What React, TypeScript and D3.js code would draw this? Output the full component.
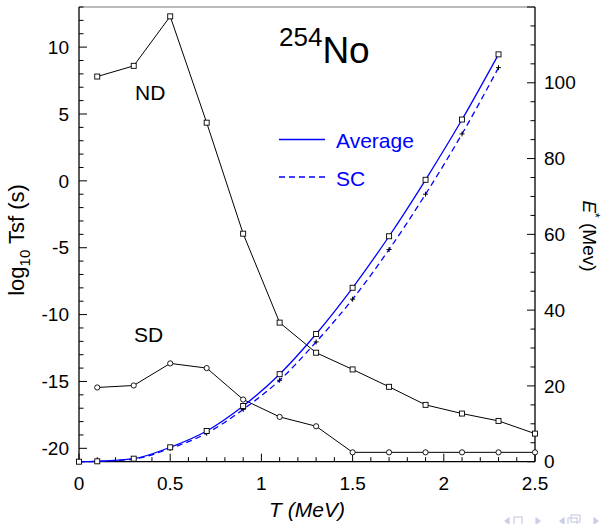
import React from "react";
import * as d3 from "d3";

// temperature grid (MeV)
const tND = [0.1, 0.3, 0.5, 0.7, 0.9, 1.1, 1.3, 1.5, 1.7, 1.9, 2.1, 2.3, 2.5];
const logTsfND = [7.8, 8.6, 12.3, 4.35, -3.95, -10.6, -12.85, -14.1, -15.4, -16.75, -17.4, -17.95, -18.9];
const logTsfSD = [-15.45, -15.3, -13.65, -14.0, -16.35, -17.65, -18.35, -20.3, -20.3, -20.3, -20.3, -20.3, -20.3];

const tE = [0, 0.1, 0.3, 0.5, 0.7, 0.9, 1.1, 1.3, 1.5, 1.7, 1.9, 2.1, 2.3];
const eAverage = [0, 0.1, 0.8, 3.8, 8.1, 14.7, 23.1, 33.7, 45.9, 59.5, 74.4, 90.3, 107.5];
const eSC = [0, 0.1, 0.7, 3.5, 7.5, 13.8, 21.5, 31.6, 42.9, 56.0, 70.6, 86.5, 104.0];

const xTicks = [0, 0.5, 1, 1.5, 2, 2.5];
const yLeftTicks = [-20, -15, -10, -5, 0, 5, 10];
const yRightTicks = [0, 20, 40, 60, 80, 100];

const W = 605;
const H = 524;
const left = 79;
const right = 535;
const top = 7;
const bottom = 461.7;
const font = "'Liberation Sans', Arial, Helvetica, sans-serif";
const blue = "#0000ff";

export default function App() {
  const x = d3.scaleLinear().domain([0, 2.5]).range([left, right]);
  const yL = d3.scaleLinear().domain([-21, 13]).range([bottom, top]);
  const yR = d3.scaleLinear().domain([0, 120]).range([bottom, top]);

  const lineL = d3
    .line<[number, number]>()
    .x((d) => x(d[0]))
    .y((d) => yL(d[1]));
  const curveR = d3
    .line<[number, number]>()
    .x((d) => x(d[0]))
    .y((d) => yR(d[1]))
    .curve(d3.curveMonotoneX);

  const nd = tND.map((t, i) => [t, logTsfND[i]] as [number, number]);
  const sd = tND.map((t, i) => [t, logTsfSD[i]] as [number, number]);
  const avg = tE.map((t, i) => [t, eAverage[i]] as [number, number]);
  const sc = tE.map((t, i) => [t, eSC[i]] as [number, number]);

  const xMinor = d3.range(0, 2.5001, 0.1);
  const yLMinor = d3.range(-21, 13.001, 1);
  const yRMinor = d3.range(0, 120.001, 5);

  const sq = (cx: number, cy: number, k: string) => (
    <rect key={k} x={cx - 2.5} y={cy - 2.5} width={5} height={5} fill="white" stroke="#000" strokeWidth={0.9} />
  );

  return (
    <svg
      width={W}
      height={H}
      style={{ position: "absolute", left: 0, top: 0, background: "white" }}
      fontFamily={font}
    >
      <rect x={0} y={0} width={W} height={H} fill="white" />

      {/* frame */}
      <line x1={left} x2={right} y1={top} y2={top} stroke="#777" strokeWidth={1.2} />
      <line x1={left} x2={left} y1={top} y2={bottom} stroke="#000" strokeWidth={1.3} />
      <line x1={right} x2={right} y1={top} y2={bottom} stroke="#000" strokeWidth={1.3} />
      <line x1={left} x2={right} y1={bottom} y2={bottom} stroke="#000" strokeWidth={1.3} />

      {/* x ticks */}
      {xMinor.map((v, i) => {
        const major = Math.abs(v * 2 - Math.round(v * 2)) < 1e-6;
        return (
          <line key={"xm" + i} x1={x(v)} x2={x(v)} y1={bottom} y2={bottom - (major ? 8 : 4.5)} stroke="#000" strokeWidth={1} />
        );
      })}
      {xTicks.map((v) => (
        <text key={"xt" + v} x={x(v)} y={490} fontSize={19} textAnchor="middle" fill="#000">
          {v}
        </text>
      ))}

      {/* left ticks */}
      {yLMinor.map((v, i) => {
        const major = Math.round(v) % 5 === 0;
        return (
          <line key={"ylm" + i} x1={left} x2={left + (major ? 8 : 4.5)} y1={yL(v)} y2={yL(v)} stroke="#000" strokeWidth={1} />
        );
      })}
      {yLeftTicks.map((v) => (
        <text key={"ylt" + v} x={69} y={yL(v) + 6.7} fontSize={19} textAnchor="end" fill="#000">
          {v}
        </text>
      ))}

      {/* right ticks */}
      {yRMinor.map((v, i) => {
        const major = Math.round(v) % 20 === 0;
        return (
          <line key={"yrm" + i} x1={right} x2={right - (major ? 8 : 4.5)} y1={yR(v)} y2={yR(v)} stroke="#000" strokeWidth={1} />
        );
      })}
      {yRightTicks.map((v) => (
        <text key={"yrt" + v} x={544} y={yR(v) + 6.7} fontSize={19} textAnchor="start" fill="#000">
          {v}
        </text>
      ))}

      {/* axis titles */}
      <text x={307} y={517} fontSize={21} textAnchor="middle" fill="#000" fontStyle="italic">
        T (MeV)
      </text>
      <text transform="translate(24,240) rotate(-90)" fontSize={22} textAnchor="middle" fill="#000">
        log
        <tspan fontSize={15} dy={6}>10</tspan>
        <tspan dy={-6}> Tsf (s)</tspan>
      </text>
      <text transform="translate(583,236) rotate(90)" fontSize={19} textAnchor="middle" fill="#000">
        <tspan fontStyle="italic">E</tspan>
        <tspan fontSize={12} dy={-8}>*</tspan>
        <tspan dy={8}> (Mev)</tspan>
      </text>

      {/* ND / SD curves */}
      <path d={lineL(nd) ?? ""} fill="none" stroke="#000" strokeWidth={1} />
      <path d={lineL(sd) ?? ""} fill="none" stroke="#000" strokeWidth={1} />

      {/* excitation energy curves */}
      <path d={curveR(avg) ?? ""} fill="none" stroke={blue} strokeWidth={1.3} />
      <path d={curveR(sc) ?? ""} fill="none" stroke={blue} strokeWidth={1.3} strokeDasharray="6,4" />

      {nd.map((d, i) => sq(x(d[0]), yL(d[1]), "nd" + i))}
      {sd.map((d, i) => (
        <circle key={"sd" + i} cx={x(d[0])} cy={yL(d[1])} r={2.6} fill="white" stroke="#000" strokeWidth={0.9} />
      ))}
      {sc.map((d, i) => (
        <path
          key={"sc" + i}
          d={`M${x(d[0]) - 2.5},${yR(d[1])}h5M${x(d[0])},${yR(d[1]) - 2.5}v5`}
          stroke="#000"
          strokeWidth={1}
        />
      ))}
      {avg.map((d, i) => sq(x(d[0]), yR(d[1]), "av" + i))}

      {/* labels */}
      <text x={135} y={100} fontSize={21} fill="#000">ND</text>
      <text x={134} y={342} fontSize={21} fill="#000">SD</text>
      <text x={279} y={63} fill="#000">
        <tspan fontSize={26} dy={-17}>254</tspan>
        <tspan fontSize={37} dy={17}>No</tspan>
      </text>

      {/* legend */}
      <line x1={279} x2={325} y1={139.5} y2={139.5} stroke={blue} strokeWidth={1.3} />
      <text x={336} y={148} fontSize={21} fill={blue}>Average</text>
      <line x1={279} x2={325} y1={177} y2={177} stroke={blue} strokeWidth={1.3} strokeDasharray="6,4" />
      <text x={336} y={186} fontSize={21} fill={blue}>SC</text>

      {/* beamer navigation symbols */}
      <g fill="none" stroke="#c5c9e6" strokeWidth={1.2} opacity={0.9}>
        <path d="M505,521 l4,-3 v6 z" fill="#c5c9e6" />
        <rect x={514} y={517} width={8} height={8} />
        <path d="M536,518 l4,3 l-4,3 z" fill="#c5c9e6" />
        <path d="M560,521 l4,-3 v6 z" fill="#c5c9e6" />
        <rect x={568} y={518} width={9} height={7} />
        <rect x={571} y={515} width={9} height={7} />
        <path d="M594,518 l4,3 l-4,3 z" fill="#c5c9e6" />
      </g>
    </svg>
  );
}
